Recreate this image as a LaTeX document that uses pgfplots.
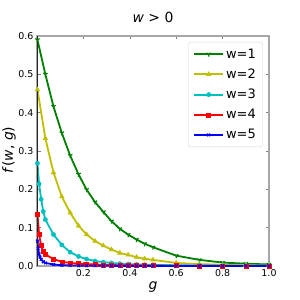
\documentclass[border=0pt]{standalone}
\usepackage{fontspec}
\setmainfont{DejaVu Sans}
\usepackage{pgfplots}
\pgfplotsset{compat=1.18}
\definecolor{mg}{rgb}{0,0.5,0}
\definecolor{my}{rgb}{0.75,0.75,0}
\definecolor{mc}{rgb}{0,0.75,0.75}
\begin{document}
\begin{tikzpicture}[x=1bp,y=1bp]
\path[use as bounding box] (0,0) rectangle (300,300);
\begin{axis}[at={(37bp,34bp)}, anchor=south west, scale only axis,
  width=232bp, height=230bp,
  xmin=0, xmax=1, ymin=0, ymax=0.6,
  xtick={0.2,0.4,0.6,0.8,1.0}, ytick={0,0.1,0.2,0.3,0.4,0.5,0.6},
  xticklabel style={/pgf/number format/.cd, fixed, fixed zerofill, precision=1, assume math mode=true},
  yticklabel style={/pgf/number format/.cd, fixed, fixed zerofill, precision=1, assume math mode=true},
  tick label style={font=\fontsize{9.5}{10}\selectfont},
  tick align=inside, major tick length=3.5bp,
  tick style={gray, line width=0.6bp},
  axis line style={gray!70, line width=1.2bp},
  clip=false,
  legend style={at={(0.974,0.974)}, anchor=north east, draw=black!15, rounded corners=2.5bp,
    fill=white, font=\fontsize{13}{13}\selectfont, inner xsep=5bp, inner ysep=4.5bp, row sep=5.2bp,
    cells={anchor=west}},
  legend image code/.code={\draw[mark repeat=2,mark phase=2] plot coordinates {(0bp,0bp) (14.5bp,0bp) (29bp,0bp)};},
]
\addplot[mg, line width=1.8bp, mark=Mercedes star flipped, mark size=2.5bp, mark options={line width=1.2bp}] coordinates {
(0.002,0.590) (0.036,0.500) (0.071,0.416) (0.107,0.347) (0.143,0.288) (0.179,0.239)
(0.214,0.199) (0.25,0.167) (0.286,0.141) (0.321,0.117) (0.357,0.097) (0.393,0.082)
(0.429,0.069) (0.464,0.058) (0.5,0.049) (0.6,0.027) (0.7,0.016) (0.8,0.009) (0.9,0.006) (1.0,0.004)};
\addlegendentry{w=1}
\addplot[my, line width=1.8bp, mark=triangle*, mark size=2.6bp, mark options={line width=0.5bp}] coordinates {
(0.002,0.460) (0.036,0.333) (0.071,0.244) (0.107,0.181) (0.143,0.139) (0.179,0.105)
(0.214,0.082) (0.25,0.065) (0.286,0.053) (0.321,0.043) (0.357,0.034) (0.393,0.029)
(0.429,0.023) (0.464,0.019) (0.5,0.016) (0.6,0.008) (0.7,0.005) (0.8,0.003) (0.9,0.002) (1.0,0.001)};
\addlegendentry{w=2}
\addplot[mc, line width=1.8bp, mark=*, mark size=2.1bp, mark options={line width=0.5bp}] coordinates {
(0.002,0.268) (0.009,0.214) (0.018,0.174) (0.027,0.142) (0.036,0.121) (0.071,0.082)
(0.107,0.055) (0.143,0.036) (0.179,0.025) (0.214,0.018) (0.25,0.013) (0.286,0.010)
(0.321,0.008) (0.357,0.006) (0.393,0.005) (0.429,0.004) (0.464,0.0035) (0.5,0.003)
(0.6,0.002) (0.7,0.0012) (0.8,0.0008) (0.9,0.0005) (1.0,0.0003)};
\addlegendentry{w=3}
\addplot[red, line width=1.8bp, mark=square*, mark size=2bp, mark options={line width=0.5bp}] coordinates {
(0.002,0.136) (0.009,0.082) (0.018,0.053) (0.027,0.038) (0.036,0.030) (0.071,0.018)
(0.107,0.011) (0.143,0.008) (0.179,0.006) (0.214,0.005) (0.25,0.004) (0.286,0.003)
(0.321,0.0025) (0.357,0.002) (0.393,0.0018) (0.429,0.0015) (0.464,0.0012) (0.5,0.001)
(0.6,0.0008) (0.7,0.0005) (0.8,0.0003) (0.9,0.0002) (1.0,0.0001)};
\addlegendentry{w=4}
\addplot[blue, line width=1.8bp, mark=x, mark size=2bp, mark options={line width=1bp}] coordinates {
(0.002,0.065) (0.005,0.045) (0.009,0.031) (0.013,0.023) (0.018,0.017) (0.027,0.011)
(0.036,0.008) (0.071,0.004) (0.107,0.002) (0.143,0.0015) (0.179,0.001) (0.214,0.0008)
(0.25,0.0006) (0.286,0.0005) (0.321,0.0004) (0.357,0.0003) (0.393,0.0003) (0.429,0.0002)
(0.464,0.0002) (0.5,0.0002) (0.6,0.0001) (0.7,0.0001) (0.8,0.0001) (0.9,0.0001) (1.0,0.0001)};
\addlegendentry{w=5}
\draw[black!85, line width=1bp] (rel axis cs:0,0) -- (rel axis cs:0,1);
\end{axis}
\node[font=\fontsize{14}{14}\selectfont] at (153,283) {\textit{w} > 0};
\node[font=\fontsize{14}{14}\selectfont] at (153,13) {\textit{g}};
\node[rotate=90, font=\fontsize{14}{14}\selectfont] at (9,150) {\textit{f}(\textit{w}, \textit{g})};
\end{tikzpicture}
\end{document}
